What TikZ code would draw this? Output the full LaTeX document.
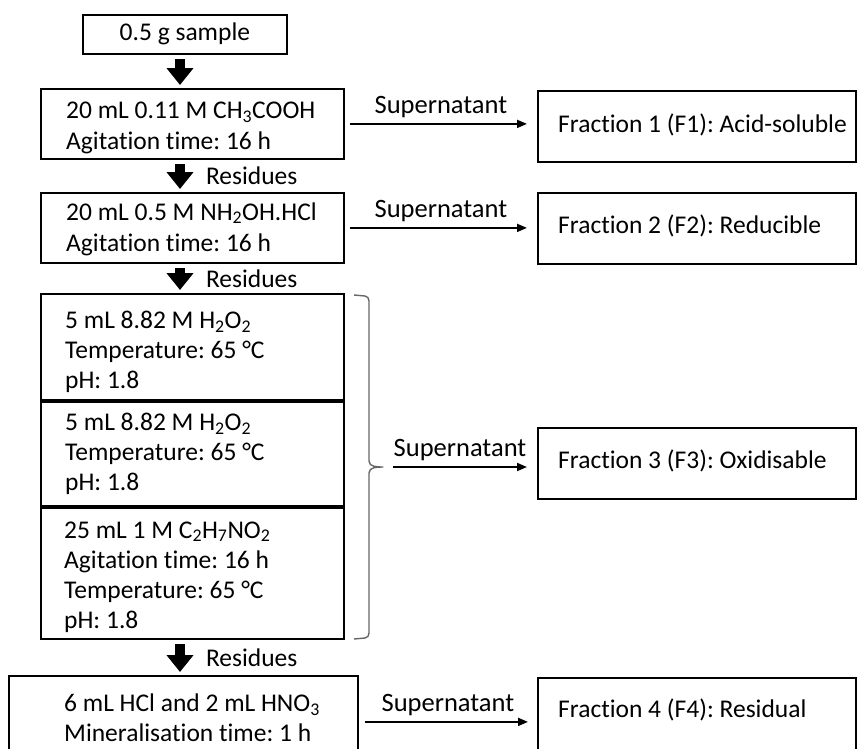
\documentclass[tikz,border=0pt]{standalone}
\usepackage{fontspec}
\setmainfont[Ligatures=NoCommon]{Carlito}
\usetikzlibrary{arrows.meta}
\frenchspacing
\begin{document}
\begin{tikzpicture}[x=1pt,y=-1pt,
  every node/.style={font=\fontsize{25.5}{31}\selectfont},
  boxn/.style={draw, line width=1.8pt, inner sep=0pt, anchor=north west},
  txt/.style={inner sep=0pt, anchor=west, align=left},
  txtb/.style={inner sep=0pt, anchor=west, align=left, font=\fontsize{25.5}{30}\selectfont},
  blockarrow/.style={line width=10pt, -{Triangle[width=26pt,length=17pt]}, shorten <=4pt, shorten >=3pt},
  thinarrow/.style={line width=1.8pt, -{Triangle[width=8pt,length=10pt]}},
  lbl/.style={inner sep=0pt},
  suplbl/.style={inner sep=0pt, above=5pt, font=\fontsize{26.5}{31}\selectfont}]
\useasboundingbox (0,0) rectangle (857,748);
\clip (0,0) rectangle (857,748);
\coordinate (ax) at (180,0);
% left column
\node[boxn, minimum width=204pt, minimum height=39pt] (sample) at (82,14) {};
\node[lbl] (sampletxt) at ([yshift=1pt]sample.center) {0.5 g sample};
\node[boxn, minimum width=303pt, minimum height=70pt] (b1) at (40,88) {};
\node[txt] (t1) at (66,128) {20 mL 0.11 M CH\textsubscript{3}COOH\\Agitation time: 16 h};
\node[boxn, minimum width=303pt, minimum height=70pt] (b2) at (40,192) {};
\node[txt] (t2) at (66,229) {20 mL 0.5 M NH\textsubscript{2}OH.HCl\\Agitation time: 16 h};
\node[boxn, minimum width=303pt, minimum height=106pt] (b3a) at (40,293) {};
\node[txtb] (t3a) at (65,352) {5 mL 8.82 M H\textsubscript{2}O\textsubscript{2}\\Temperature: 65 °C\\pH: 1.8};
\node[boxn, minimum width=303pt, minimum height=104pt] (b3b) at (40,401) {};
\node[txtb] (t3b) at (65,454) {5 mL 8.82 M H\textsubscript{2}O\textsubscript{2}\\Temperature: 65 °C\\pH: 1.8};
\node[boxn, minimum width=303pt, minimum height=131pt] (b3c) at (40,507) {};
\node[txtb] (t3c) at (64,577) {25 mL 1 M C\textsubscript{2}H\textsubscript{7}NO\textsubscript{2}\\Agitation time: 16 h\\Temperature: 65 °C\\pH: 1.8};
\node[boxn, minimum width=349pt, minimum height=88pt] (b4) at (8,675) {};
\node[txtb] (t4) at (64,718) {6 mL HCl and 2 mL HNO\textsubscript{3}\\Mineralisation time: 1 h};
% right column
\node[boxn, minimum width=318pt, minimum height=71pt] (f1) at (537,90) {};
\node[lbl, anchor=west] (f1t) at (558,125) {Fraction 1 (F1): Acid-soluble};
\node[boxn, minimum width=318pt, minimum height=71pt] (f2) at (537,192) {};
\node[lbl, anchor=west] (f2t) at (558,226) {Fraction 2 (F2): Reducible};
\node[boxn, minimum width=318pt, minimum height=71pt] (f3) at (537,427) {};
\node[lbl, anchor=west] (f3t) at (558,461) {Fraction 3 (F3): Oxidisable};
\node[boxn, minimum width=318pt, minimum height=86pt] (f4) at (537,677) {};
\node[lbl, anchor=west] (f4t) at (558,710) {Fraction 4 (F4): Residual};
% block arrows
\draw[blockarrow] (sample.south -| ax) -- (b1.north -| ax);
\draw[blockarrow] (b1.south -| ax) -- node[lbl, right=21pt] (r1) {Residues} (b2.north -| ax);
\draw[blockarrow] (b2.south -| ax) -- node[lbl, right=21pt] (r2) {Residues} (b3a.north -| ax);
\draw[blockarrow] (b3c.south -| ax) -- node[lbl, right=21pt] (r3) {Residues} (b4.north -| ax);
% brace
\draw[black!60, line width=1.4pt, line join=round]
  (354,295) -- (365,296) to[out=0,in=90] (369,301) -- (369,461)
  to[out=-90,in=180] (383,467) to[out=180,in=90] (369,473) -- (369,633)
  to[out=-90,in=0] (365,638) -- (354,639);
\coordinate (tip) at (383,467);
% supernatant arrows
\draw[thinarrow, shorten <=5pt, shorten >=10pt] (b1.east) -- node[suplbl] (s1) {Supernatant} (b1.east -| f1.west);
\draw[thinarrow, shorten <=5pt, shorten >=10pt] (b2.east) -- node[suplbl] (s2) {Supernatant} (b2.east -| f2.west);
\draw[thinarrow, shorten <=10pt, shorten >=10pt] (tip) -- node[suplbl] (s3) {Supernatant} (tip -| f3.west);
\draw[thinarrow, shorten <=6pt, shorten >=9pt] ([yshift=-2pt]b4.east) -- node[suplbl] (s4) {Supernatant} ([yshift=-2pt]b4.east -| f4.west);
\end{tikzpicture}
\end{document}
